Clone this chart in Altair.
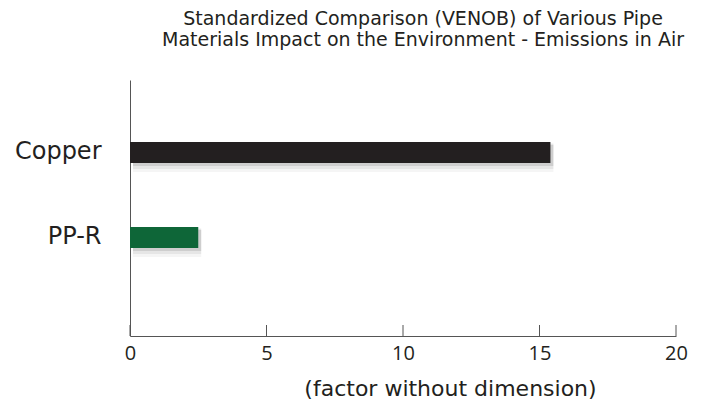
import altair as alt
import pandas as pd

materials = ["Copper", "PP-R"]
values = [15.4, 2.5]
colors = ["#231f20", "#0e6638"]
tick_values = [0, 5, 10, 15, 20]
title_lines = [
    "Standardized Comparison (VENOB) of Various Pipe",
    "Materials Impact on the Environment - Emissions in Air",
]
x_title = "(factor without dimension)"

df = pd.DataFrame({"material": materials, "value": values, "color": colors})
ticks_df = pd.DataFrame({"value": tick_values})

W, H = 546, 256
AXIS_COLOR = "#555555"
TEXT_COLOR = "#231f20"

xscale = alt.Scale(domain=[0, 20], nice=False, zero=True)
yscale = alt.Scale(domain=materials, paddingInner=0.753, paddingOuter=0.882, align=0.413)

x_axis = alt.Axis(
    values=tick_values,
    ticks=False,
    grid=False,
    domainColor=AXIS_COLOR,
    labelFontSize=20,
    labelFont="Open Sans",
    labelColor=TEXT_COLOR,
    labelPadding=7,
    labelFlush=False,
    title=x_title,
    titleFont="DejaVu Sans",
    titleFontSize=22,
    titleFontWeight="normal",
    titleColor=TEXT_COLOR,
    titleX=320,
    titleY=59,
    titleBaseline="alphabetic",
)
y_axis = alt.Axis(
    ticks=False,
    grid=False,
    domainColor=AXIS_COLOR,
    labelFontSize=24,
    labelFont="DejaVu Sans",
    labelColor=TEXT_COLOR,
    labelPadding=29,
    title=None,
)


def xe():
    return alt.X("value:Q", scale=xscale, axis=x_axis, title=x_title)


def ye():
    return alt.Y("material:N", sort=materials, scale=yscale, axis=y_axis, title=None)


base = alt.Chart(df)

shadow_layers = []
for x2o, yo, sz, op in [(9, 5, 29, 0.04), (6, 4, 25, 0.06), (3, 3, 21, 0.10)]:
    shadow_layers.append(
        base.mark_bar(color="#000000", opacity=op, xOffset=3, x2Offset=x2o, yOffset=yo, size=sz).encode(
            x=xe(), y=ye()
        )
    )

bars = base.mark_bar().encode(
    x=xe(),
    y=ye(),
    color=alt.Color("color:N", scale=None),
)
ticks = alt.Chart(ticks_df).mark_rule(color=AXIS_COLOR, strokeWidth=1).encode(
    x=xe(),
    y=alt.value(H - 11),
    y2=alt.value(H),
)

chart = (
    alt.layer(*shadow_layers, bars, ticks)
    .properties(
        width=W,
        height=H,
        autosize=alt.AutoSizeParams(type="none"),
        padding={"left": 122, "top": 72, "right": 22, "bottom": 64},
        title=alt.TitleParams(
            text=title_lines,
            font="DejaVu Sans",
            fontSize=19,
            fontWeight="normal",
            color=TEXT_COLOR,
            anchor="middle",
            dx=20,
            offset=30,
            lineHeight=21,
        ),
    )
    .configure(background="white")
    .configure_view(stroke=None)
)

chart.save("out.html", embed_options={"renderer": "svg", "actions": False})
